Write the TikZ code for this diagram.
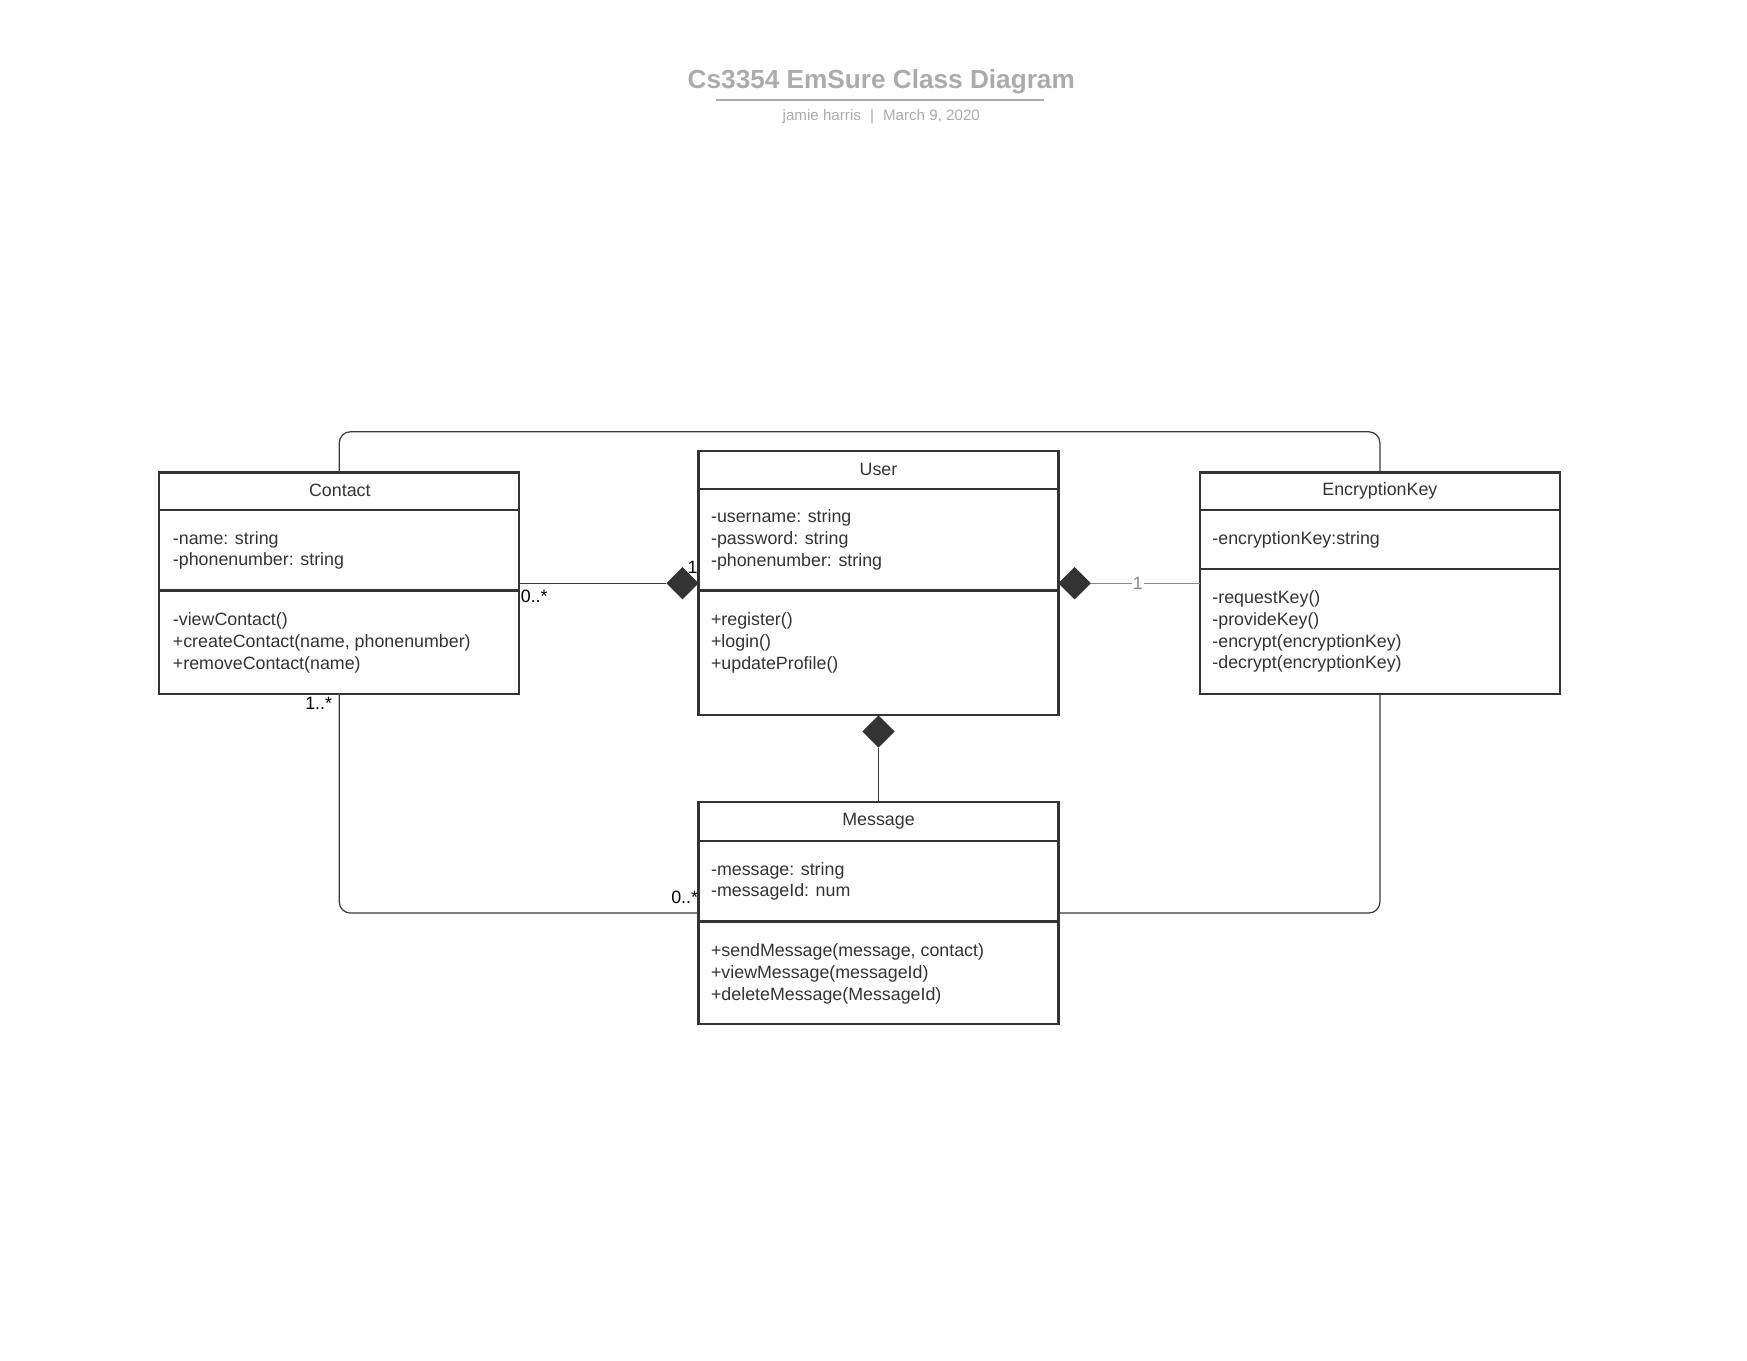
\documentclass[tikz,border=0pt]{standalone}
\usepackage{fontspec}
\setmainfont{Liberation Sans}
\usetikzlibrary{shapes.geometric}
\definecolor{ink}{HTML}{333333}
\definecolor{connink}{HTML}{3A3A3A}
\definecolor{lightline}{HTML}{8A8A8A}
\definecolor{titlegray}{HTML}{ABABAB}
\tikzset{
  classbox/.style={draw=ink, line width=2pt, anchor=north west, inner sep=0pt, outer sep=0pt,
    minimum width=323pt, minimum height=199pt},
  sepline/.style={draw=ink, line width=2pt},
  ctitle/.style={font=\fontsize{16}{19.5}\selectfont, text=ink, inner sep=0pt},
  cbody/.style={font=\fontsize{16}{19.5}\selectfont, text=ink, inner sep=0pt, align=left, anchor=west},
  comp/.style={diamond, fill=ink, draw=none, minimum width=29pt, minimum height=29pt, inner sep=0pt, outer sep=0pt},
  conn/.style={draw=connink, line width=1.1pt},
  mult/.style={font=\fontsize{16}{19.5}\selectfont, text=black, inner sep=0pt},
}
\begin{document}
\begin{tikzpicture}[x=1pt, y=-1pt]
\useasboundingbox (0,0) rectangle (1568,1221);

% title
\node[font=\bfseries\fontsize{23.5}{28}\selectfont, text=titlegray, inner sep=0pt] (title) at (791,73.5) {Cs3354 EmSure Class Diagram};
\coordinate (ulL) at (643,89.5);
\coordinate (ulR) at (937,89.5);
\draw[draw=titlegray, line width=1.6pt] (ulL) -- (ulR);
\node[font=\fontsize{13.6}{16}\selectfont, text=titlegray, inner sep=0pt] (subtitle) at (791,104.5) {jamie harris\hspace{0.6em}|\hspace{0.6em}March 9, 2020};

% Contact
\node[classbox] (contact) at (143,424) {};
\draw[sepline] (143,458) -- (466,458);
\draw[sepline] (143,530) -- (466,530);
\node[ctitle] (contactT) at (305,440) {Contact};
\node[cbody] (contactA) at (155,494) {-name: string\\-phonenumber: string};
\node[cbody] (contactM) at (155,577) {-viewContact()\\+createContact(name, phonenumber)\\+removeContact(name)};

% User
\node[classbox, minimum height=237pt] (user) at (627,405) {};
\draw[sepline] (627,439) -- (950,439);
\draw[sepline] (627,530) -- (950,530);
\node[ctitle] (userT) at (788.5,421) {User};
\node[cbody] (userA) at (638,484.5) {-username: string\\-password: string\\-phonenumber: string};
\node[cbody] (userM) at (638,577) {+register()\\+login()\\+updateProfile()};

% EncryptionKey
\node[classbox] (enc) at (1077,424) {};
\draw[sepline] (1077,458) -- (1400,458);
\draw[sepline] (1077,511) -- (1400,511);
\node[ctitle] (encT) at (1238.5,440.5) {EncryptionKey};
\node[cbody] (encA) at (1088,484.5) {-encryptionKey:string};
\node[cbody] (encM) at (1088,567) {-requestKey()\\-provideKey()\\-encrypt(encryptionKey)\\-decrypt(encryptionKey)};

% Message
\node[classbox] (message) at (627,720) {};
\draw[sepline] (627,755) -- (950,755);
\draw[sepline] (627,827) -- (950,827);
\node[ctitle] (messageT) at (788.5,737) {Message};
\node[cbody] (messageA) at (638,791) {-message: string\\-messageId: num};
\node[cbody] (messageM) at (638,874) {+sendMessage(message, contact)\\+viewMessage(messageId)\\+deleteMessage(MessageId)};

% composition diamonds
\node[comp] (dL) at (612.5,523.5) {};
\node[comp] (dR) at (964.5,523.5) {};
\node[comp] (dB) at (788.5,656.5) {};

% connectors
\draw[conn] (contact.east) -- (dL.west);
\draw[draw=lightline, line width=1.3pt] (dR.east) -- node[pos=0.43, fill=white, inner sep=1pt, font=\fontsize{16}{19.5}\selectfont, text=lightline] (lab1) {1} (enc.west);
\draw[conn] (dB.south) -- (message.north);

\coordinate (topY) at (0,387.5);
\draw[conn, rounded corners=10pt] (contact.north) |- (enc.north |- topY) -- (enc.north);
\draw[conn, rounded corners=10pt] (contact.south) |- (message.west);
\draw[conn, rounded corners=10pt] (enc.south) |- (message.east);

% multiplicities
\node[mult] (m1) at (479.5,535) {0..*};
\node[mult] (m2) at (621.5,509) {1};
\node[mult] (m3) at (286,631) {1..*};
\node[mult] (m4) at (614.5,805.5) {0..*};
\end{tikzpicture}
\end{document}
